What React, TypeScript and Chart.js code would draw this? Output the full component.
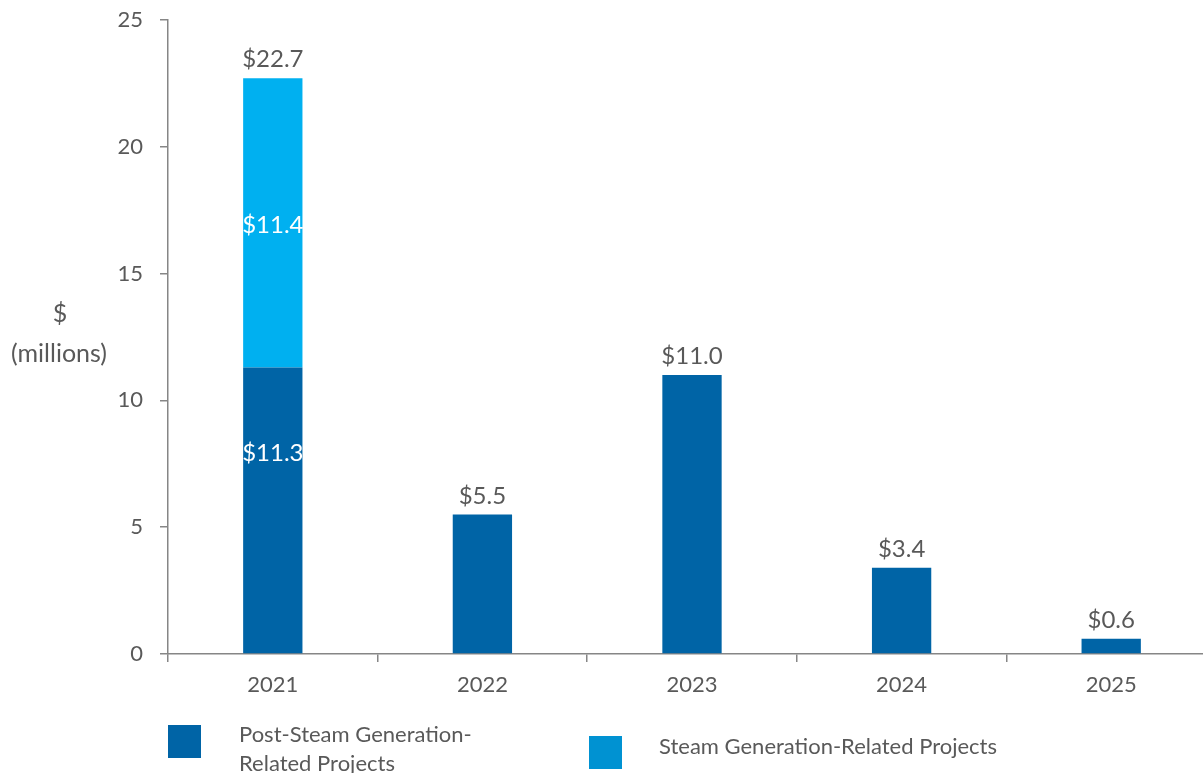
import React, { useEffect, useRef } from "react";
import { Chart, registerables } from "chart.js";

Chart.register(...registerables);

const categories = ["2021", "2022", "2023", "2024", "2025"];
const postSteamValues = [11.3, 5.5, 11.0, 3.4, 0.6];
const steamValues = [11.4, 0, 0, 0, 0];
const totalLabels = ["$22.7", "$5.5", "$11.0", "$3.4", "$0.6"];
const segmentLabelsPost = ["$11.3", "", "", "", ""];
const segmentLabelsSteam = ["$11.4", "", "", "", ""];
const yTickValues = [0, 5, 10, 15, 20, 25];
const legendPostLines = ["Post-Steam Generation-", "Related Projects"];
const legendSteamLines = ["Steam Generation-Related Projects"];
const yTitleLines = ["$", "(millions)"];

const DARK = "#0064A6";
const LIGHT = "#00B0F0";
const LEGEND_LIGHT = "#0092D2";
const TEXT = "#595959";
const AXIS = "#868686";
const FONT = "Lato";

const labelPlugin = {
  id: "customLabels",
  afterDatasetsDraw(chart: any) {
    const ctx = chart.ctx;
    const y = chart.scales.y;
    ctx.save();
    ctx.font = `24px ${FONT}`;
    ctx.textAlign = "center";
    ctx.textBaseline = "alphabetic";
    const metaPost = chart.getDatasetMeta(0);
    const metaSteam = chart.getDatasetMeta(1);
    categories.forEach((_, i) => {
      const total = postSteamValues[i] + steamValues[i];
      const bar = metaPost.data[i];
      const x = bar.x;
      ctx.fillStyle = TEXT;
      ctx.fillText(totalLabels[i], x, y.getPixelForValue(total) - 11);
      ctx.fillStyle = "#ffffff";
      if (segmentLabelsPost[i]) {
        const b = metaPost.data[i];
        const mid = (b.y + b.base) / 2;
        ctx.fillText(segmentLabelsPost[i], x, mid - 49);
      }
      if (segmentLabelsSteam[i]) {
        const b = metaSteam.data[i];
        const mid = (b.y + b.base) / 2;
        ctx.fillText(segmentLabelsSteam[i], x, mid + 10);
      }
    });
    // y-axis title
    ctx.fillStyle = TEXT;
    ctx.font = `25px ${FONT}`;
    ctx.fillText(yTitleLines[0], 60, 322);
    ctx.fillText(yTitleLines[1], 59, 362);
    // legend
    ctx.textAlign = "left";
    ctx.font = `22px ${FONT}`;
    ctx.fillStyle = DARK;
    ctx.fillRect(168, 725, 33, 33);
    ctx.fillStyle = TEXT;
    legendPostLines.forEach((t, k) => ctx.fillText(t, 239, 742 + k * 29));
    ctx.fillStyle = LEGEND_LIGHT;
    ctx.fillRect(589, 736, 33, 33);
    ctx.fillStyle = TEXT;
    legendSteamLines.forEach((t, k) => ctx.fillText(t, 659, 754 + k * 29));
    ctx.restore();
  },
};

export default function App() {
  const ref = useRef<HTMLCanvasElement>(null);
  useEffect(() => {
    if (!ref.current) return;
    const chart = new Chart(ref.current, {
      type: "bar",
      data: {
        labels: categories,
        datasets: [
          {
            label: "Post-Steam Generation-Related Projects",
            data: postSteamValues,
            backgroundColor: DARK,
            barPercentage: 0.283,
            categoryPercentage: 1,
          },
          {
            label: "Steam Generation-Related Projects",
            data: steamValues,
            backgroundColor: LIGHT,
            barPercentage: 0.283,
            categoryPercentage: 1,
          },
        ],
      },
      options: {
        responsive: false,
        animation: false,
        layout: { padding: { top: 20, left: 0, right: 0, bottom: 0 } },
        plugins: { legend: { display: false }, tooltip: { enabled: false } },
        scales: {
          x: {
            stacked: true,
            offset: true,
            grid: {
              offset: true,
              drawOnChartArea: false,
              drawTicks: true,
              tickLength: 8,
              color: AXIS,
              lineWidth: 1.5,
            },
            border: { display: true, color: AXIS, width: 1.5 },
            ticks: { color: TEXT, font: { family: FONT, size: 22 }, padding: 10 },
            afterFit: (s: any) => {
              s.height = 119;
              s.paddingLeft = 0;
              s.paddingRight = 0;
            },
          },
          y: {
            stacked: true,
            min: 0,
            max: 25,
            afterBuildTicks: (s: any) => {
              s.ticks = yTickValues.map((v) => ({ value: v }));
            },
            grid: {
              drawOnChartArea: false,
              drawTicks: true,
              tickLength: 8,
              color: AXIS,
              lineWidth: 1.5,
            },
            border: { display: true, color: AXIS, width: 1.5 },
            ticks: { color: TEXT, font: { family: FONT, size: 22 }, padding: 17 },
            afterFit: (s: any) => {
              s.width = 168;
              s.paddingTop = 0;
              s.paddingBottom = 0;
            },
          },
        },
      },
      plugins: [labelPlugin],
    });
    return () => chart.destroy();
  }, []);
  return (
    <div
      style={{
        position: "absolute",
        left: 0,
        top: 0,
        width: 1203,
        height: 773,
        overflow: "hidden",
        background: "#fff",
      }}
    >
      <canvas ref={ref} width={1216} height={773} style={{ display: "block" }} />
    </div>
  );
}
